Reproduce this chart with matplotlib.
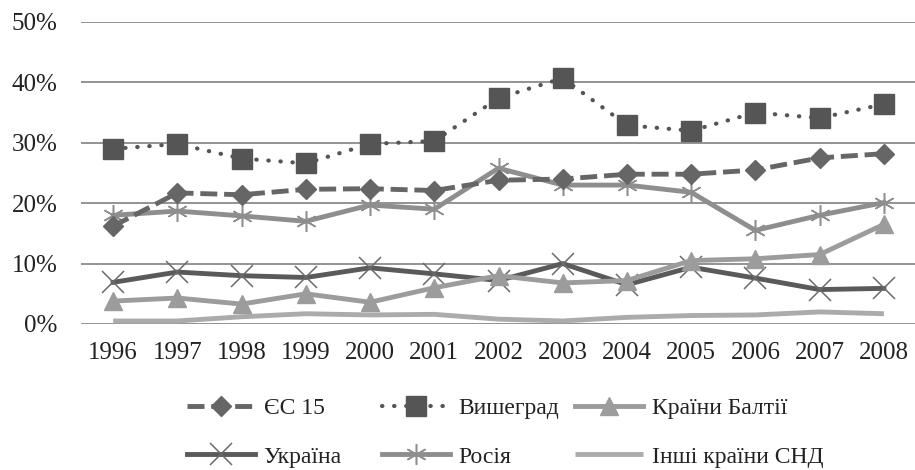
import matplotlib
matplotlib.use("Agg")
import matplotlib.pyplot as plt
from matplotlib.ticker import FuncFormatter

years = [1996, 1997, 1998, 1999, 2000, 2001, 2002, 2003, 2004, 2005, 2006, 2007, 2008]
eu15 = [16.2, 21.7, 21.4, 22.3, 22.4, 22.1, 23.8, 24.0, 24.8, 24.8, 25.5, 27.5, 28.2]
visegrad = [29.0, 29.8, 27.4, 26.6, 29.8, 30.3, 37.4, 40.7, 32.9, 32.0, 35.0, 34.1, 36.4]
baltic = [3.8, 4.3, 3.3, 5.0, 3.6, 6.0, 8.0, 6.8, 7.2, 10.5, 10.8, 11.5, 16.5]
ukraine = [6.9, 8.6, 8.0, 7.7, 9.3, 8.3, 7.2, 10.0, 6.5, 9.4, 7.6, 5.7, 5.9]
russia = [18.0, 18.7, 17.9, 17.0, 19.7, 19.0, 25.8, 23.0, 23.0, 21.8, 15.5, 18.0, 20.1]
other_cis = [0.5, 0.5, 1.2, 1.7, 1.5, 1.6, 0.8, 0.5, 1.1, 1.4, 1.5, 2.0, 1.7]
yticks = [0, 10, 20, 30, 40, 50]

plt.rcParams['font.family'] = ['Liberation Serif', 'DejaVu Serif']

fig = plt.figure(figsize=(9.15, 4.7), dpi=100)
ax = fig.add_axes([81/915, 1 - 324/470, (916 - 81)/915, (324 - 22)/470])

x = list(range(len(years)))
h_other, = ax.plot(x, other_cis, color='#ababab', lw=3.5, solid_capstyle='butt', zorder=2)
h_ukr, = ax.plot(x, ukraine, color='#5a5a5a', lw=3.5, marker='x', ms=16, mew=1.1,
                 mec='#6a6a6a', zorder=3)
h_balt, = ax.plot(x, baltic, color='#9c9c9c', lw=3.5, marker='^', ms=13, zorder=3)
h_rus, = ax.plot(x, russia, color='#8e8e8e', lw=3.5, marker=(6, 2, 0), ms=15, mew=1.1,
                 mec='#8e8e8e', zorder=4)
h_eu, = ax.plot(x, eu15, color='#666666', lw=3.5, ls=(0, (3.5, 1.4)), marker='D', ms=10,
                zorder=5)
h_vis, = ax.plot(x, visegrad, color='#555555', lw=3, ls=(0, (0.1, 2.8)),
                 dash_capstyle='round', marker='s', ms=14, zorder=6)

ax.set_xlim(-0.5, len(years) - 0.5)
ax.set_ylim(0, 50)
ax.set_yticks(yticks)
ax.yaxis.set_major_formatter(FuncFormatter(lambda v, p: f"{int(v)}%"))
ax.set_xticks(x)
ax.set_xticklabels([str(y) for y in years])
ax.grid(axis='y', color='#8a8a8a', lw=1.3)
ax.set_axisbelow(True)
for s in ax.spines.values():
    s.set_visible(False)
ax.tick_params(length=0, labelsize=18, colors='#222222')
ax.tick_params(axis='y', pad=17)
ax.tick_params(axis='x', pad=13)

columns = [
    ([h_eu, h_ukr], ['ЄС 15', 'Україна'], 187),
    ([h_vis, h_rus], ['Вишеград', 'Росія'], 382),
    ([h_balt, h_other], ['Країни Балтії', 'Інші країни СНД'], 575),
]
for hs, ls, x0 in columns:
    leg = fig.legend(hs, ls, loc='center left', bbox_to_anchor=(x0 / 915, 0.0798),
                     frameon=False, fontsize=17, handlelength=2.9, handletextpad=0.34,
                     labelspacing=1.15, borderpad=0, borderaxespad=0)
    for t in leg.get_texts():
        t.set_color('#222222')

fig.savefig('out.png', dpi=100)
